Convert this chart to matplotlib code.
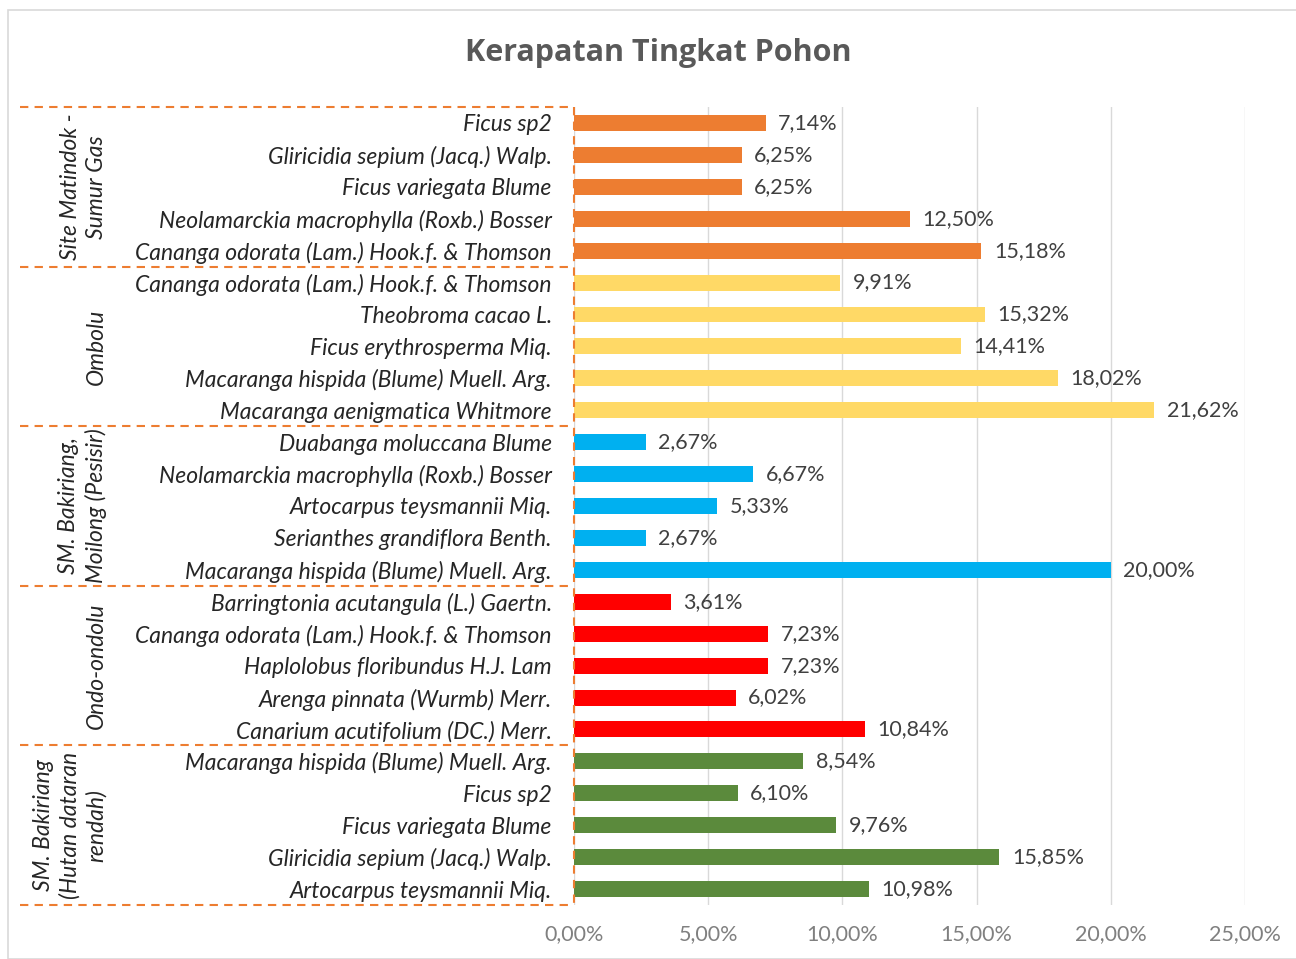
import matplotlib.pyplot as plt
from matplotlib.patches import Rectangle
from matplotlib.ticker import FuncFormatter
import matplotlib.transforms as mtransforms

# groups (top to bottom) and their species / density values (%)
groups = ["Site Matindok -\nSumur Gas", "Ombolu", "SM. Bakiriang,\nMoilong (Pesisir)",
          "Ondo-ondolu", "SM. Bakiriang\n(Hutan dataran\nrendah)"]
group_colors = ["#ED7D31", "#FFD966", "#00B0F0", "#FF0000", "#5B8A3C"]

species_matindok = ["Ficus sp2", "Gliricidia sepium (Jacq.) Walp.", "Ficus variegata Blume",
                    "Neolamarckia macrophylla (Roxb.) Bosser",
                    "Cananga odorata (Lam.) Hook.f. & Thomson"]
values_matindok = [7.14, 6.25, 6.25, 12.50, 15.18]

species_ombolu = ["Cananga odorata (Lam.) Hook.f. & Thomson", "Theobroma cacao L.",
                  "Ficus erythrosperma Miq.", "Macaranga hispida (Blume) Muell. Arg.",
                  "Macaranga aenigmatica Whitmore"]
values_ombolu = [9.91, 15.32, 14.41, 18.02, 21.62]

species_pesisir = ["Duabanga moluccana Blume", "Neolamarckia macrophylla (Roxb.) Bosser",
                   "Artocarpus teysmannii Miq.", "Serianthes grandiflora Benth.",
                   "Macaranga hispida (Blume) Muell. Arg."]
values_pesisir = [2.67, 6.67, 5.33, 2.67, 20.00]

species_ondo = ["Barringtonia acutangula (L.) Gaertn.",
                "Cananga odorata (Lam.) Hook.f. & Thomson",
                "Haplolobus floribundus H.J. Lam", "Arenga pinnata (Wurmb) Merr.",
                "Canarium acutifolium (DC.) Merr."]
values_ondo = [3.61, 7.23, 7.23, 6.02, 10.84]

species_dataran = ["Macaranga hispida (Blume) Muell. Arg.", "Ficus sp2", "Ficus variegata Blume",
                   "Gliricidia sepium (Jacq.) Walp.", "Artocarpus teysmannii Miq."]
values_dataran = [8.54, 6.10, 9.76, 15.85, 10.98]

all_species = [species_matindok, species_ombolu, species_pesisir, species_ondo, species_dataran]
all_values = [values_matindok, values_ombolu, values_pesisir, values_ondo, values_dataran]

font = "Lato"
fig = plt.figure(figsize=(12.96, 9.59), dpi=100)
ax = fig.add_axes([574/1296, 1-905/959, 671/1296, 798/959])

# light chart border
fig.patches.append(Rectangle((8/1296, 0), 1.0, 1-10/959, transform=fig.transFigure,
                             fill=False, edgecolor="#d9d9d9", linewidth=1.2))

labels = []
pos = 0
for gi in range(len(groups)):
    for name, val in zip(all_species[gi], all_values[gi]):
        ax.barh(pos, val, height=0.5, color=group_colors[gi])
        ax.annotate(f"{val:.2f}%".replace(".", ","), (val, pos), xytext=(9, 0),
                    textcoords="offset points", va="center", ha="left",
                    fontsize=15.5, color="#404040", family=font)
        labels.append(name)
        pos += 1

ax.set_yticks(range(len(labels)))
ax.set_yticklabels(labels, fontsize=16.5, style="italic", family=font, color="#262626")
ax.set_ylim(len(labels) - 0.5, -0.5)
ax.set_xlim(0, 25)
ax.set_xticks([0, 5, 10, 15, 20, 25])
ax.xaxis.set_major_formatter(FuncFormatter(lambda v, p: f"{v:.2f}%".replace(".", ",")))
for t in ax.get_xticklabels():
    t.set_family(font)
ax.tick_params(axis="y", length=0, pad=16)
ax.tick_params(axis="x", length=0, pad=14, labelsize=15.5, labelcolor="#808080")
ax.grid(axis="x", color="#d9d9d9", linewidth=1)
ax.set_axisbelow(True)
for s in ax.spines.values():
    s.set_visible(False)

# dashed group boxes
trans = mtransforms.blended_transform_factory(ax.transAxes, ax.transData)
dash = dict(color="#ED7D31", linestyle=(0, (4, 3)), linewidth=1.5, clip_on=False, transform=trans)
start = 0
x_left = (20 - 574) / 671
for gi, g in enumerate(groups):
    n = len(all_species[gi])
    ax.text((107 - 574) / 671, start + (n - 1) / 2, g, rotation=90, ha="right", va="center",
            multialignment="center", fontsize=16.5, style="italic", family=font,
            color="#262626", transform=trans, linespacing=1.3)
    ax.plot([x_left, 0], [start - 0.5, start - 0.5], **dash)
    start += n
ax.plot([x_left, 0], [start - 0.5, start - 0.5], **dash)
ax.plot([0, 0], [-0.5, start - 0.5], **dash)

fig.text(658/1296, 1-53/959, "Kerapatan Tingkat Pohon", ha="center", va="center",
         fontsize=22, fontweight="bold", family="Open Sans", color="#595959")

fig.savefig("out.png", dpi=100)
